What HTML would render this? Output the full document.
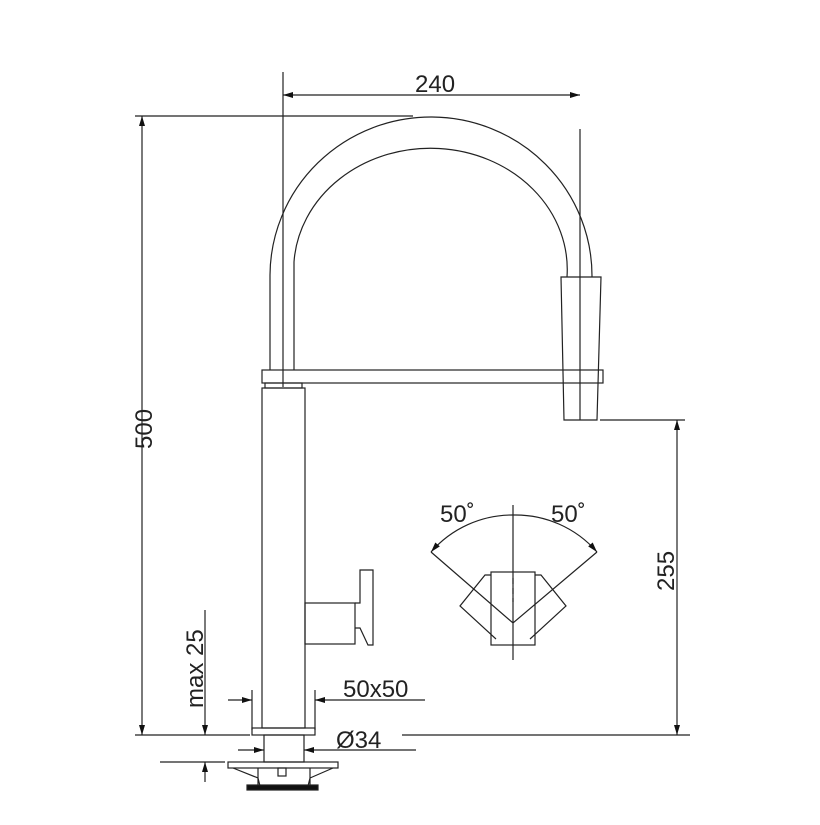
<!DOCTYPE html>
<html><head><style>body{margin:0;background:#fff}</style></head><body>
<svg width="820" height="820" viewBox="0 0 820 820" xmlns="http://www.w3.org/2000/svg" font-family="Liberation Sans, sans-serif" font-size="24" fill="none" stroke="#222" stroke-width="1.2">
<defs><marker id="a" viewBox="0 0 10 6" refX="10" refY="3" markerWidth="14" markerHeight="6" markerUnits="userSpaceOnUse" orient="auto-start-reverse"><path d="M0,0L10,3L0,6z" fill="#111" stroke="none"/></marker></defs>
<!-- spout -->
<path d="M270,370 L270,275 A161,159 0 0 1 592,277"/>
<path d="M294,370 L294,262 A136.5,121 0 0 1 567,277"/>
<path d="M561,277 L601,277 L597,420 L564,420 Z"/>
<rect x="262" y="370" width="341" height="13"/>
<rect x="265" y="383" width="37" height="5"/>
<rect x="262" y="388" width="43" height="340"/>
<!-- handle -->
<rect x="305" y="603" width="50" height="41"/>
<path d="M355,603 L360,603 L360,570 L373,570 L373,645 L368,645 L360,628 L355,628"/>
<!-- base -->
<rect x="252" y="728" width="63" height="7"/>
<rect x="264" y="735" width="40" height="27"/>
<rect x="228" y="762" width="110" height="6"/>
<path d="M233,768 L258,778 L260,786 M333,768 L310,778 L308,786 M258,768 L258,786 M310,768 L310,786"/>
<rect x="278" y="768" width="8" height="8"/>
<rect x="247" y="785" width="71" height="5" fill="#111"/>
<!-- dims -->
<path d="M283,72 L283,387 M580,129 L580,420 M135,116 L413,116 M135,735 L250,735 M402,735 L690,735 M600,420 L685,420 M160,762 L225,762 M252,690 L252,730 M315,690 L315,730"/>
<path d="M283,95 L580,95" marker-start="url(#a)" marker-end="url(#a)"/>
<path d="M142,116 L142,735" marker-start="url(#a)" marker-end="url(#a)"/>
<path d="M677,420 L677,735" marker-start="url(#a)" marker-end="url(#a)"/>
<path d="M205,610 L205,735" marker-end="url(#a)"/>
<path d="M205,782 L205,762" marker-end="url(#a)"/>
<path d="M228,700 L252,700" marker-end="url(#a)"/>
<path d="M425,700 L315,700" marker-end="url(#a)"/>
<path d="M238,750 L264,750" marker-end="url(#a)"/>
<path d="M416,750 L304,750" marker-end="url(#a)"/>
<!-- angle -->
<path d="M513,505 L513,660 M431,552 L513,623 L597,552"/>
<path d="M513,515 A108,108 0 0 0 431,552" marker-end="url(#a)"/>
<path d="M513,515 A108,108 0 0 1 597,552" marker-end="url(#a)"/>
<rect x="491" y="572" width="44" height="73"/>
<path d="M491,575 L485,575 L460,606 L496,639 M535,575 L541,575 L566,606 L530,639"/>
<path d="M513,578 L513,602" stroke-dasharray="6,4"/>
<g fill="#222" stroke="none">
<text x="415" y="92">240</text>
<text x="343" y="697">50x50</text>
<text x="336" y="748">Ø34</text>
<text x="440" y="522">50˚</text>
<text x="551" y="522">50˚</text>
<text transform="translate(152,449) rotate(-90)">500</text>
<text transform="translate(674,591) rotate(-90)">255</text>
<text transform="translate(203,708) rotate(-90)">max 25</text>
</g>
</svg>
</body></html>
